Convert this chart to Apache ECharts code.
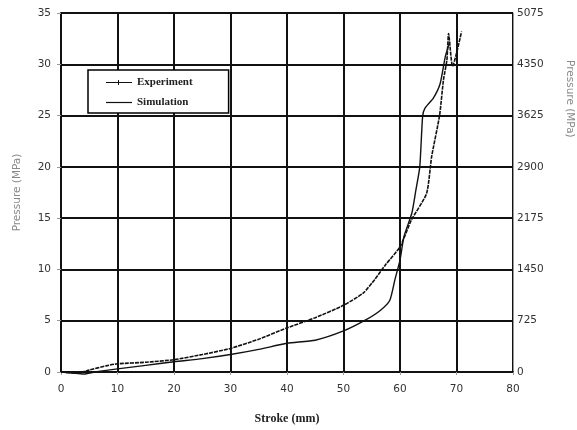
<!DOCTYPE html>
<html>
<head>
<meta charset="utf-8">
<script src="https://cdn.jsdelivr.net/npm/echarts@6/dist/echarts.min.js"></script>
<style>
  html, body { margin: 0; padding: 0; background: #fff; }
  #chart { width: 577px; height: 430px; }
</style>
</head>
<body>
<div id="chart"></div>
<script>
// Stroke (mm) vs pressure (MPa), measured and simulated
const experimentStroke = [0, 3, 5, 8, 10, 15, 20, 25, 30, 35, 40, 45, 50, 53.5, 55.5, 57.5, 60, 62, 64.7, 65.6, 67, 67.7, 68.3, 68.6, 69.3, 70.9];
const experimentPressure = [0, -0.1, 0.2, 0.6, 0.8, 0.95, 1.2, 1.7, 2.3, 3.2, 4.3, 5.3, 6.5, 7.7, 9.0, 10.5, 12.2, 14.8, 17.4, 21.0, 25.0, 28.5, 30.4, 33.0, 29.8, 33.2];

const simulationStroke = [0, 2, 4, 6, 10, 15, 20, 25, 30, 35, 40, 45, 50, 54, 56.5, 58.2, 59.1, 60, 60.7, 62.1, 62.8, 63.5, 64, 64.4, 65.9, 67.1, 68, 68.8];
const simulationPressure = [0, -0.1, -0.2, 0, 0.3, 0.65, 1.0, 1.3, 1.7, 2.2, 2.8, 3.1, 4.0, 5.1, 6.0, 7.0, 9.0, 10.9, 13.2, 15.5, 17.7, 20.0, 24.9, 25.7, 26.7, 28.1, 30.7, 32.2];

const strokeTicks = { min: 0, max: 80, interval: 10 };
const pressureTicks = { min: 0, max: 35, interval: 5 };
const pressureRightTicks = { min: 0, max: 5075, interval: 725 };

const zip = (xs, ys) => xs.map((x, i) => [x, ys[i]]);

const tickFont = { fontFamily: 'DejaVu Sans', fontSize: 10.5, color: '#333' };
const gridLine = { show: true, lineStyle: { color: '#111', width: 2 } };

const chart = echarts.init(document.getElementById('chart'), null, { renderer: 'canvas' });
chart.setOption({
  animation: false,
  backgroundColor: '#fff',
  grid: { left: 61, right: 64, top: 13, bottom: 58, show: true, borderColor: '#999', borderWidth: 1 },
  legend: {
    left: 88, top: 70, orient: 'vertical',
    padding: [7, 36, 5, 18],
    itemGap: 9, itemWidth: 26, itemHeight: 8,
    borderColor: '#000', borderWidth: 1.5, backgroundColor: '#fff',
    textStyle: { fontFamily: 'Liberation Serif', fontWeight: 'bold', fontSize: 11, color: '#222', letterSpacing: 0.6 },
    data: [
      { name: 'Experiment', icon: 'path://M0,5 L26,5 L26,6 L0,6 Z M12,3 L13,3 L13,8 L12,8 Z' },
      { name: 'Simulation', icon: 'path://M0,5 L26,5 L26,6.2 L0,6.2 Z' }
    ]
  },
  xAxis: {
    type: 'value', ...strokeTicks,
    name: 'Stroke (mm)', nameLocation: 'middle', nameGap: 41,
    nameTextStyle: { fontFamily: 'Liberation Serif', fontWeight: 'bold', fontSize: 12, color: '#222' },
    axisLine: { show: true, lineStyle: { color: '#111', width: 2 } },
    axisTick: { show: true, length: 3, lineStyle: { color: '#999' } },
    axisLabel: { ...tickFont, margin: 12 },
    splitLine: gridLine
  },
  yAxis: [
    {
      type: 'value', ...pressureTicks,
      name: 'Pressure (MPa)', nameLocation: 'middle', nameGap: 38,
      nameTextStyle: { fontFamily: 'DejaVu Sans', fontSize: 10.5, color: '#888' },
      axisLine: { show: true, lineStyle: { color: '#111', width: 2 } },
      axisTick: { show: true, length: 4, lineStyle: { color: '#999' } },
      axisLabel: { ...tickFont, margin: 10 },
      splitLine: gridLine
    },
    {
      type: 'value', ...pressureRightTicks, position: 'right',
      axisLine: { show: true, lineStyle: { color: '#999', width: 1 } },
      axisTick: { show: false },
      axisLabel: { ...tickFont, margin: 4, formatter: v => String(v) },
      splitLine: { show: false }
    }
  ],
  graphic: [{
    type: 'text', left: 564, top: 60, rotation: -Math.PI / 2,
    style: { text: 'Pressure (MPa)', fontFamily: 'DejaVu Sans', fontSize: 10.5, fill: '#888' }
  }],
  series: [
    {
      name: 'Experiment', type: 'line', yAxisIndex: 0, clip: false,
      data: zip(experimentStroke, experimentPressure),
      showSymbol: false, smooth: 0.2,
      lineStyle: { color: '#111', width: 1.6, type: [4, 1] },
      itemStyle: { color: '#111' }, z: 5
    },
    {
      name: 'Simulation', type: 'line', yAxisIndex: 0, clip: false,
      data: zip(simulationStroke, simulationPressure),
      showSymbol: false, smooth: 0.2,
      lineStyle: { color: '#111', width: 1.4 },
      itemStyle: { color: '#111' }, z: 5
    }
  ]
});
</script>
</body>
</html>
